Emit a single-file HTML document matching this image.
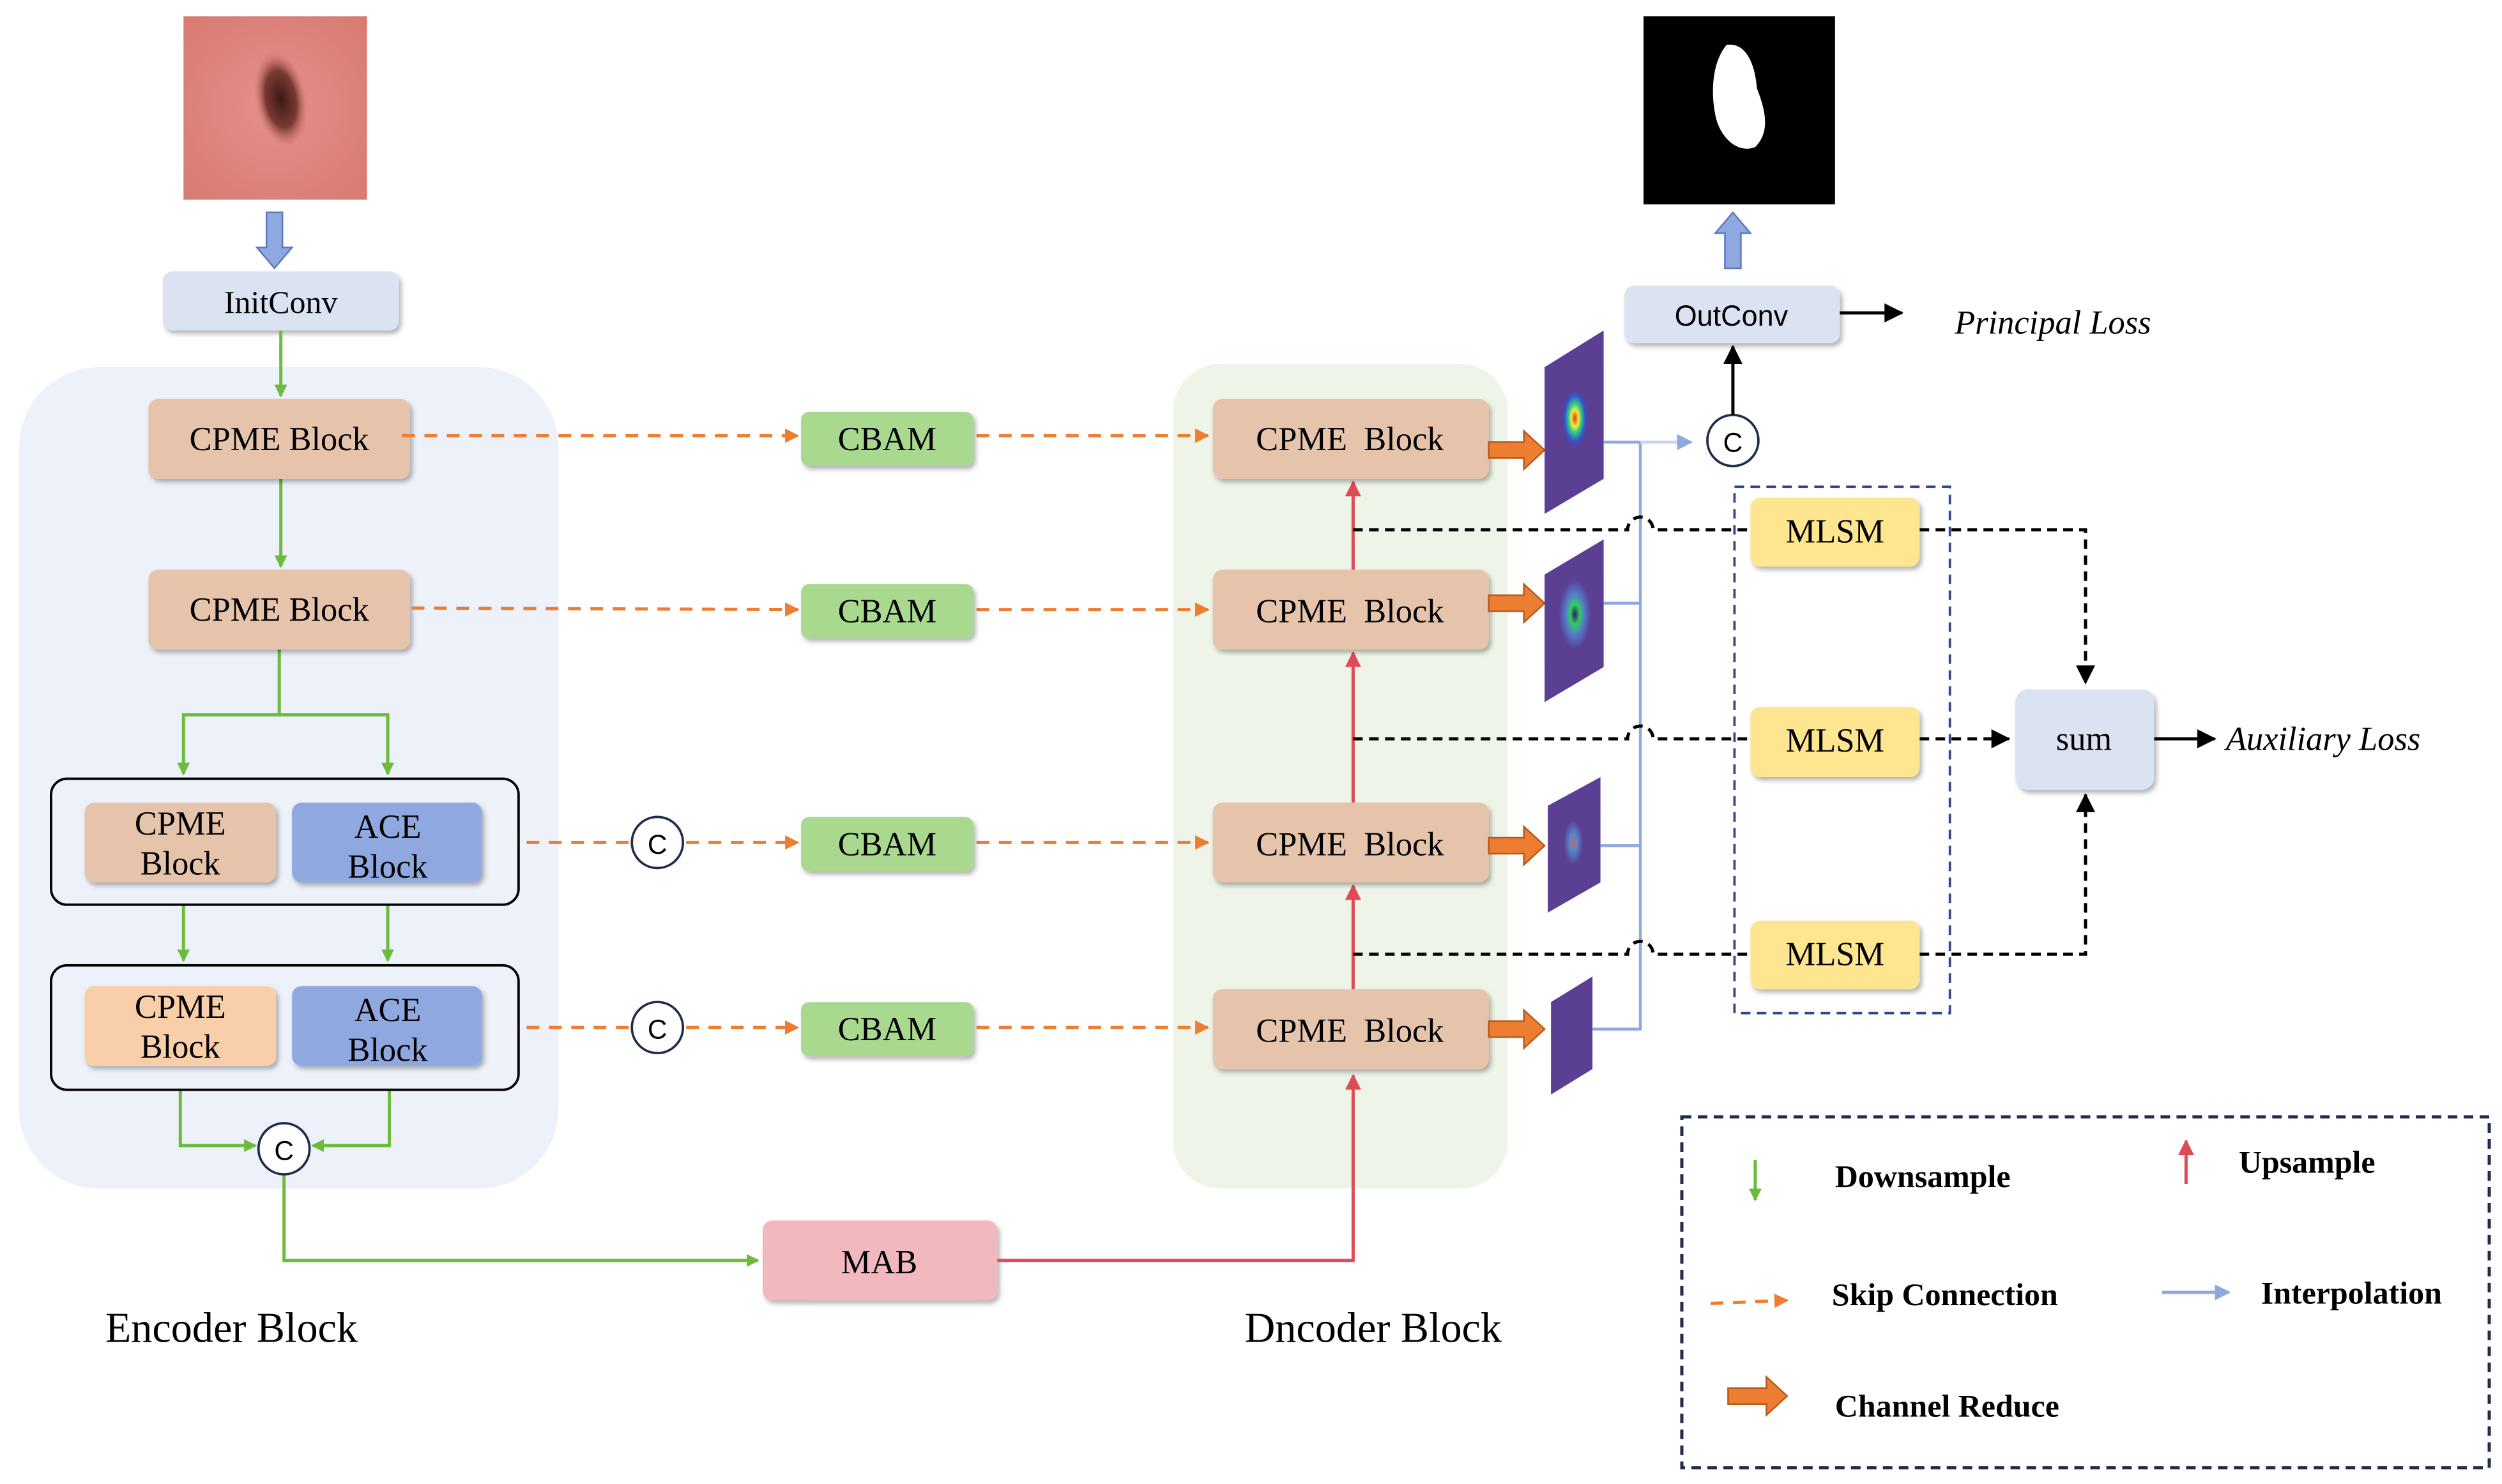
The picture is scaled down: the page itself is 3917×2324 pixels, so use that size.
<!DOCTYPE html>
<html><head><meta charset="utf-8"><style>
html,body{margin:0;padding:0;background:#fff;}
svg{display:block;}
text{font-family:"Liberation Serif",serif;}
.s{font-family:"Liberation Sans",sans-serif;}
</style></head><body>
<svg width="3917" height="2324" viewBox="0 0 1568 930" xmlns="http://www.w3.org/2000/svg">
<defs>
<marker id="ag" markerWidth="8" markerHeight="8" refX="7" refY="4" orient="auto" markerUnits="userSpaceOnUse"><path d="M0,0 L8,4 L0,8 z" fill="#6cbb3c"/></marker>
<marker id="ao" markerWidth="9" markerHeight="9" refX="8" refY="4.5" orient="auto" markerUnits="userSpaceOnUse"><path d="M0,0 L9,4.5 L0,9 z" fill="#ed7d31"/></marker>
<marker id="ar" markerWidth="10" markerHeight="10" refX="9" refY="5" orient="auto" markerUnits="userSpaceOnUse"><path d="M0,0 L10,5 L0,10 z" fill="#e04a55"/></marker>
<marker id="ak" markerWidth="12" markerHeight="12" refX="11" refY="6" orient="auto" markerUnits="userSpaceOnUse"><path d="M0,0 L12,6 L0,12 z" fill="#000"/></marker>
<marker id="ab" markerWidth="10" markerHeight="10" refX="9" refY="5" orient="auto" markerUnits="userSpaceOnUse"><path d="M0,0 L10,5 L0,10 z" fill="#8fa8e0"/></marker>
<filter id="sh" x="-10%" y="-10%" width="130%" height="140%"><feDropShadow dx="1.5" dy="2" stdDeviation="1.5" flood-color="#000" flood-opacity="0.3"/></filter>
<radialGradient id="skin" cx="0.5" cy="0.5" r="0.7"><stop offset="0" stop-color="#e4908a"/><stop offset="1" stop-color="#d77a72"/></radialGradient>
<radialGradient id="les" cx="0.5" cy="0.5" r="0.5"><stop offset="0" stop-color="#3a1a14"/><stop offset="0.6" stop-color="#7a3a32"/><stop offset="1" stop-color="#c06a62" stop-opacity="0"/></radialGradient>
<radialGradient id="fm1" cx="0.5" cy="0.5" r="0.5"><stop offset="0" stop-color="#e33"/><stop offset="0.3" stop-color="#ee3"/><stop offset="0.5" stop-color="#3c8"/><stop offset="0.8" stop-color="#35c"/><stop offset="1" stop-color="#5a3f92"/></radialGradient>
<radialGradient id="fm2" cx="0.5" cy="0.5" r="0.5"><stop offset="0" stop-color="#2a2060"/><stop offset="0.3" stop-color="#3c6"/><stop offset="0.6" stop-color="#5577cc"/><stop offset="1" stop-color="#5a3f92"/></radialGradient>
<radialGradient id="fm3" cx="0.5" cy="0.5" r="0.5"><stop offset="0" stop-color="#c66"/><stop offset="0.4" stop-color="#58c"/><stop offset="1" stop-color="#5a3f92"/></radialGradient>
</defs>

<rect x="12" y="230" width="338" height="515" rx="50" fill="#edf1f9"/>
<rect x="735" y="228" width="210" height="517" rx="30" fill="#eef5e8"/>

<rect x="115" y="10" width="115" height="115" fill="url(#skin)"/>
<ellipse cx="176" cy="62" rx="16" ry="30" fill="url(#les)" transform="rotate(-10 176 62)"/>
<path d="M167,133 h10 v22 h6 l-11,13 l-11,-13 h6 z" fill="#8fa8e0" stroke="#5a78c0" stroke-width="1"/>
<rect x="102" y="170" width="148" height="37" rx="6" fill="#dbe3f3" filter="url(#sh)"/>
<text x="176" y="196" font-size="20" text-anchor="middle">InitConv</text>

<g stroke="#6cbb3c" stroke-width="2" fill="none">
<line x1="176" y1="207" x2="176" y2="248" marker-end="url(#ag)"/>
<line x1="176" y1="300" x2="176" y2="355" marker-end="url(#ag)"/>
<path d="M175,407 V448 H115 V485" marker-end="url(#ag)"/>
<path d="M175,448 H243 V485" marker-end="url(#ag)"/>
<line x1="115" y1="567" x2="115" y2="602" marker-end="url(#ag)"/>
<line x1="243" y1="567" x2="243" y2="602" marker-end="url(#ag)"/>
<path d="M113,683 V718 H160" marker-end="url(#ag)"/>
<path d="M244,683 V718 H196" marker-end="url(#ag)"/>
<path d="M178,736 V790 H475" marker-end="url(#ag)"/>
</g>

<rect x="93" y="250" width="164" height="50" rx="6" fill="#e6c4ab" filter="url(#sh)"/>
<text x="175" y="282" font-size="21" text-anchor="middle">CPME Block</text>
<rect x="93" y="357" width="164" height="50" rx="6" fill="#e6c4ab" filter="url(#sh)"/>
<text x="175" y="389" font-size="21" text-anchor="middle">CPME Block</text>

<rect x="32" y="488" width="293" height="79" rx="10" fill="none" stroke="#000" stroke-width="1.5"/>
<rect x="53" y="503" width="120" height="50" rx="6" fill="#e6c4ab" filter="url(#sh)"/>
<text x="113" y="523" font-size="21" text-anchor="middle">CPME</text><text x="113" y="548" font-size="21" text-anchor="middle">Block</text>
<rect x="183" y="503" width="119" height="50" rx="6" fill="#8fa8e0" filter="url(#sh)"/>
<text x="243" y="525" font-size="21" text-anchor="middle">ACE</text><text x="243" y="550" font-size="21" text-anchor="middle">Block</text>

<rect x="32" y="605" width="293" height="78" rx="10" fill="none" stroke="#000" stroke-width="1.5"/>
<rect x="53" y="618" width="120" height="50" rx="6" fill="#f8cfa8" filter="url(#sh)"/>
<text x="113" y="638" font-size="21" text-anchor="middle">CPME</text><text x="113" y="663" font-size="21" text-anchor="middle">Block</text>
<rect x="183" y="618" width="119" height="50" rx="6" fill="#8fa8e0" filter="url(#sh)"/>
<text x="243" y="640" font-size="21" text-anchor="middle">ACE</text><text x="243" y="665" font-size="21" text-anchor="middle">Block</text>

<circle cx="178" cy="720" r="16" fill="#fff" stroke="#1f2d4d" stroke-width="1.5"/>
<text x="178" y="727" font-size="17" text-anchor="middle" class="s">C</text>

<rect x="478" y="765" width="147" height="50" rx="6" fill="#f2b8c0" filter="url(#sh)"/>
<text x="551" y="798" font-size="21" text-anchor="middle">MAB</text>

<g stroke="#e04a55" stroke-width="2" fill="none">
<path d="M625,790 H848 V674" marker-end="url(#ar)"/>
<line x1="848" y1="620" x2="848" y2="555" marker-end="url(#ar)"/>
<line x1="848" y1="503" x2="848" y2="409" marker-end="url(#ar)"/>
<line x1="848" y1="357" x2="848" y2="302" marker-end="url(#ar)"/>
</g>

<g stroke="#ed7d31" stroke-width="2" fill="none" stroke-dasharray="8,6">
<line x1="252" y1="273" x2="500" y2="273" marker-end="url(#ao)"/>
<line x1="612" y1="273" x2="757" y2="273" marker-end="url(#ao)"/>
<line x1="258" y1="381" x2="500" y2="382" marker-end="url(#ao)"/>
<line x1="612" y1="382" x2="757" y2="382" marker-end="url(#ao)"/>
<line x1="330" y1="528" x2="395" y2="528"/>
<line x1="430" y1="528" x2="500" y2="528" marker-end="url(#ao)"/>
<line x1="612" y1="528" x2="757" y2="528" marker-end="url(#ao)"/>
<line x1="330" y1="644" x2="395" y2="644"/>
<line x1="430" y1="644" x2="500" y2="644" marker-end="url(#ao)"/>
<line x1="612" y1="644" x2="757" y2="644" marker-end="url(#ao)"/>
</g>
<circle cx="412" cy="528" r="16" fill="#fff" stroke="#1f2d4d" stroke-width="1.5"/><text x="412" y="535" font-size="17" text-anchor="middle" class="s">C</text>
<circle cx="412" cy="644" r="16" fill="#fff" stroke="#1f2d4d" stroke-width="1.5"/><text x="412" y="651" font-size="17" text-anchor="middle" class="s">C</text>

<g filter="url(#sh)" fill="#a9d98f">
<rect x="502" y="258" width="108" height="34" rx="5"/>
<rect x="502" y="366" width="108" height="34" rx="5"/>
<rect x="502" y="512" width="108" height="34" rx="5"/>
<rect x="502" y="628" width="108" height="34" rx="5"/>
</g>
<g font-size="21" text-anchor="middle">
<text x="556" y="282">CBAM</text><text x="556" y="390">CBAM</text><text x="556" y="536">CBAM</text><text x="556" y="652">CBAM</text>
</g>

<g filter="url(#sh)" fill="#e6c4ab">
<rect x="760" y="250" width="173" height="50" rx="6"/>
<rect x="760" y="357" width="173" height="50" rx="6"/>
<rect x="760" y="503" width="173" height="50" rx="6"/>
<rect x="760" y="620" width="173" height="50" rx="6"/>
</g>
<g font-size="21" text-anchor="middle">
<text x="846" y="282">CPME&#160; Block</text><text x="846" y="390">CPME&#160; Block</text><text x="846" y="536">CPME&#160; Block</text><text x="846" y="653">CPME&#160; Block</text>
</g>

<g fill="#ed7d31" stroke="#b85a1a" stroke-width="1">
<path d="M933,277 h22 v-7 l13,12 l-13,12 v-7 h-22 z"/>
<path d="M933,373 h22 v-7 l13,12 l-13,12 v-7 h-22 z"/>
<path d="M933,525 h22 v-7 l13,12 l-13,12 v-7 h-22 z"/>
<path d="M933,640 h22 v-7 l13,12 l-13,12 v-7 h-22 z"/>
</g>

<polygon points="968,230 1005,207 1005,300 968,322" fill="#5a3f92"/>
<ellipse cx="987" cy="262" rx="8" ry="18" fill="url(#fm1)"/>
<polygon points="968,360 1005,338 1005,418 968,440" fill="#5a3f92"/>
<ellipse cx="987" cy="385" rx="10" ry="22" fill="url(#fm2)"/>
<polygon points="970,505 1003,487 1003,553 970,572" fill="#5a3f92"/>
<ellipse cx="986" cy="528" rx="6" ry="14" fill="url(#fm3)"/>
<polygon points="972,628 998,612 998,670 972,686" fill="#5a3f92"/>

<g stroke="#8fa8e0" stroke-width="1.8" fill="none">
<path d="M1005,277 H1028 V645 H998"/>
<line x1="1005" y1="378" x2="1028" y2="378"/>
<line x1="1003" y1="530" x2="1028" y2="530"/>
<line x1="1028" y1="277" x2="1060" y2="277" stroke="#c8d4f0" marker-end="url(#ab)"/>
</g>

<circle cx="1086" cy="276" r="16" fill="#fff" stroke="#1f2d4d" stroke-width="1.5"/>
<text x="1086" y="283" font-size="17" text-anchor="middle" class="s">C</text>
<line x1="1086" y1="260" x2="1086" y2="217" stroke="#000" stroke-width="2" marker-end="url(#ak)"/>

<rect x="1018" y="179" width="135" height="36" rx="6" fill="#dbe3f3" filter="url(#sh)"/>
<text x="1085" y="204" font-size="18" text-anchor="middle" class="s">OutConv</text>
<line x1="1153" y1="196" x2="1192" y2="196" stroke="#000" stroke-width="2" marker-end="url(#ak)"/>
<text x="1225" y="209" font-size="21" font-style="italic">Principal Loss</text>

<path d="M1081,168 h10 v-22 h6 l-11,-13 l-11,13 h6 z" fill="#8fa8e0" stroke="#5a78c0" stroke-width="1"/>
<rect x="1030" y="10" width="120" height="118" fill="#000"/>
<path d="M1082,28 C1094,26 1100,40 1101,55 C1106,68 1110,82 1100,92 C1090,96 1080,88 1076,76 C1072,62 1072,40 1082,28 z" fill="#fff"/>

<g stroke="#000" stroke-width="2" fill="none" stroke-dasharray="6,4">
<path d="M848,332 H1020 a8,8 0 0 1 16,0 H1095"/>
<path d="M848,463 H1020 a8,8 0 0 1 16,0 H1095"/>
<path d="M848,598 H1020 a8,8 0 0 1 16,0 H1095"/>
<path d="M1203,332 H1307 V428" marker-end="url(#ak)"/>
<path d="M1203,463 H1259" marker-end="url(#ak)"/>
<path d="M1203,598 H1307 V498" marker-end="url(#ak)"/>
</g>

<rect x="1087" y="305" width="135" height="330" fill="none" stroke="#2f4a8a" stroke-width="1.5" stroke-dasharray="6,4"/>
<g filter="url(#sh)" fill="#fde68f">
<rect x="1097" y="312" width="106" height="43" rx="6"/>
<rect x="1097" y="443" width="106" height="44" rx="6"/>
<rect x="1097" y="577" width="106" height="43" rx="6"/>
</g>
<g font-size="21" text-anchor="middle">
<text x="1150" y="340">MLSM</text><text x="1150" y="471">MLSM</text><text x="1150" y="605">MLSM</text>
</g>

<rect x="1263" y="432" width="87" height="63" rx="8" fill="#dbe3f3" filter="url(#sh)"/>
<text x="1306" y="470" font-size="21" text-anchor="middle">sum</text>
<line x1="1350" y1="463" x2="1388" y2="463" stroke="#000" stroke-width="2" marker-end="url(#ak)"/>
<text x="1395" y="470" font-size="21" font-style="italic">Auxiliary Loss</text>

<text x="66" y="841" font-size="26.5">Encoder Block</text>
<text x="780" y="841" font-size="26.5">Dncoder Block</text>

<rect x="1054" y="700" width="506" height="220" fill="none" stroke="#1f2d4d" stroke-width="2" stroke-dasharray="6,4"/>
<line x1="1100" y1="727" x2="1100" y2="752" stroke="#6cbb3c" stroke-width="2" marker-end="url(#ag)"/>
<text x="1150" y="744" font-size="20" font-weight="bold">Downsample</text>
<line x1="1370" y1="742" x2="1370" y2="715" stroke="#e04a55" stroke-width="2" marker-end="url(#ar)"/>
<text x="1403" y="735" font-size="20" font-weight="bold">Upsample</text>
<line x1="1072" y1="817" x2="1120" y2="815" stroke="#ed7d31" stroke-width="2" stroke-dasharray="8,6" marker-end="url(#ao)"/>
<text x="1148" y="818" font-size="20" font-weight="bold">Skip Connection</text>
<line x1="1355" y1="810" x2="1397" y2="810" stroke="#8fa8e0" stroke-width="2" marker-end="url(#ab)"/>
<text x="1417" y="817" font-size="20" font-weight="bold">Interpolation</text>
<path d="M1083,870 h24 v-7 l13,12 l-13,12 v-7 h-24 z" fill="#ed7d31" stroke="#b85a1a" stroke-width="1"/>
<text x="1150" y="888" font-size="20" font-weight="bold">Channel Reduce</text>
</svg>
</body></html>
